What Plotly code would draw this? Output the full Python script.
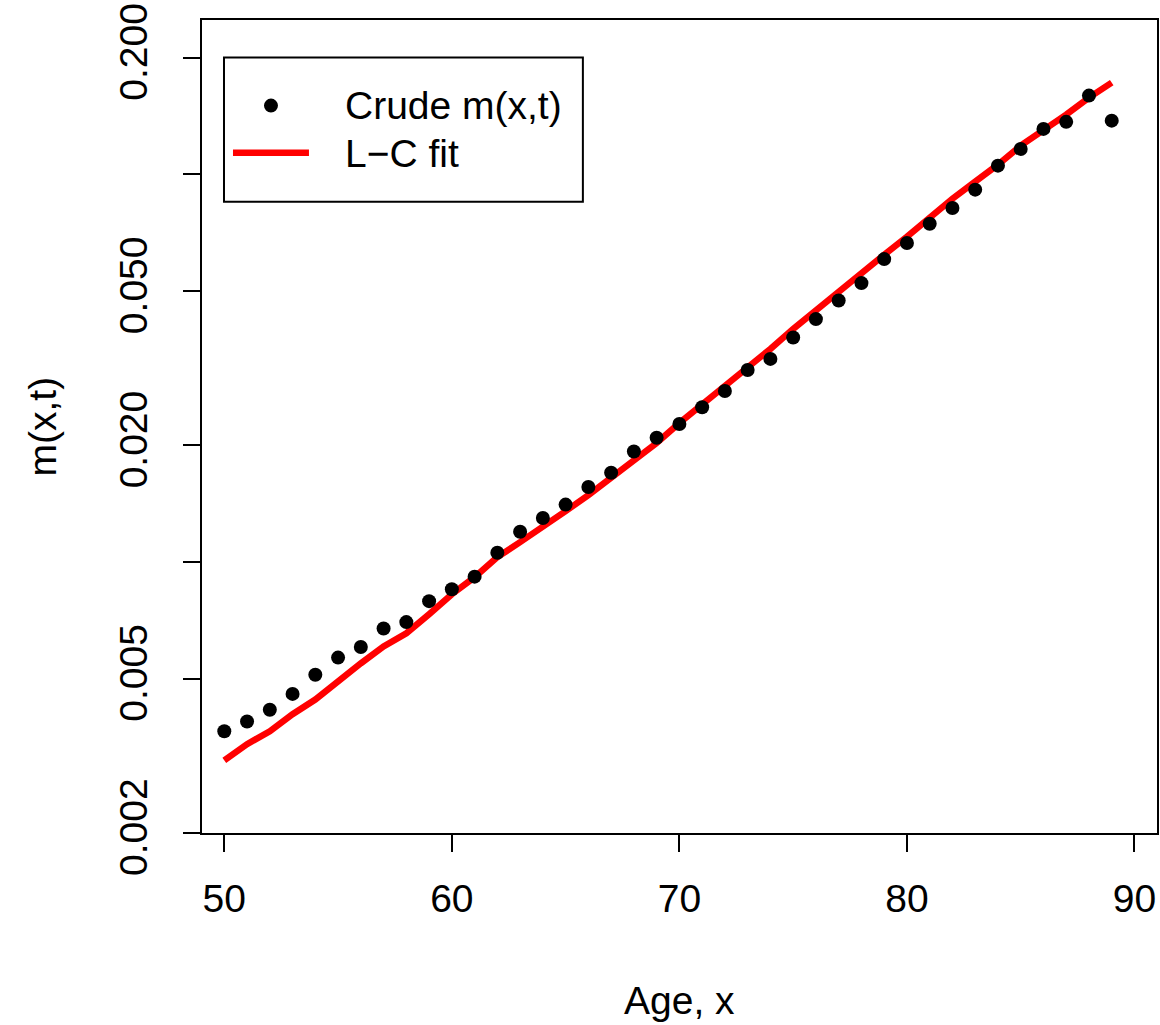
import plotly.graph_objects as go

# Ages and death rates (crude observed vs Lee-Carter fitted), one year of data
ages = list(range(50, 90))

crude_mx = [
    0.00366, 0.00388, 0.00416, 0.00457, 0.00512, 0.00567, 0.00604, 0.00674,
    0.00700, 0.00793, 0.00851, 0.00917, 0.01057, 0.01198, 0.01299, 0.01407,
    0.01562, 0.01700, 0.01929, 0.02094, 0.02272, 0.02508, 0.02764, 0.03131,
    0.03344, 0.03796, 0.04235, 0.04730, 0.05245, 0.06050, 0.06655, 0.07464,
    0.08197, 0.09138, 0.1054, 0.1164, 0.1311, 0.1367, 0.1598, 0.1377,
]

lc_fit = [
    0.00308, 0.00339, 0.00366, 0.00405, 0.00442, 0.00495, 0.00548, 0.00606,
    0.00655, 0.00734, 0.00826, 0.00914, 0.01030, 0.01126, 0.01231, 0.01354,
    0.01489, 0.01647, 0.01834, 0.02029, 0.02285, 0.02543, 0.02830, 0.03170,
    0.03548, 0.03997, 0.04475, 0.04981, 0.05544, 0.06207, 0.06910, 0.07783,
    0.08660, 0.09583, 0.1060, 0.1187, 0.1298, 0.1427, 0.1579, 0.1726,
]

x_ticks = [50, 60, 70, 80, 90]
y_ticks = [0.002, 0.005, 0.01, 0.02, 0.05, 0.1, 0.2]
y_tick_text = ["0.002", "0.005", "", "0.020", "0.050", "", "0.200"]

legend_labels = ["Crude m(x,t)", "L\u2212C fit"]

FONT = "Liberation Sans, Arial, Helvetica, sans-serif"
FS = 39

fig = go.Figure()

fig.add_trace(go.Scatter(
    x=ages, y=lc_fit, mode="lines",
    line=dict(color="#ff0000", width=6.5),
    showlegend=False,
))
fig.add_trace(go.Scatter(
    x=ages, y=crude_mx, mode="markers",
    marker=dict(color="black", size=14, line=dict(width=0)),
    showlegend=False,
))

axis_common = dict(
    showline=True, linecolor="black", linewidth=2, mirror=True,
    showgrid=False, zeroline=False,
    ticks="outside", ticklen=17, tickwidth=2, tickcolor="black",
    tickfont=dict(family=FONT, size=FS, color="black"),
)

fig.update_xaxes(
    range=[49.02, 90.99], tickvals=x_ticks,
    ticklabelstandoff=13,
    **axis_common,
)
fig.update_yaxes(
    type="log", range=[-2.69897, -0.6014],
    tickvals=y_ticks, ticktext=y_tick_text, tickangle=-90,
    ticklabelstandoff=20,
    **axis_common,
)

# Hand-built legend box in the upper-left corner of the panel
W, H = 955.3, 812.0
def px(xp):
    return (xp - 202) / W
def py(yp):
    return (832.5 - yp) / H

shapes = [
    dict(type="rect", xref="paper", yref="paper",
         x0=px(224), x1=px(583), y0=py(202), y1=py(58),
         line=dict(color="black", width=2), fillcolor="white", layer="above"),
    dict(type="circle", xref="paper", yref="paper",
         xsizemode="pixel", ysizemode="pixel",
         xanchor=px(271), yanchor=py(106), x0=-7, x1=7, y0=-7, y1=7,
         fillcolor="black", line=dict(width=0), layer="above"),
    dict(type="line", xref="paper", yref="paper",
         x0=px(233), x1=px(309), y0=py(153), y1=py(153),
         line=dict(color="#ff0000", width=6.5), layer="above"),
]

annotations = [
    dict(text=legend_labels[0], xref="paper", yref="paper",
         x=px(343), y=py(106), xanchor="left", yanchor="middle",
         showarrow=False, font=dict(family=FONT, size=FS, color="black")),
    dict(text=legend_labels[1], xref="paper", yref="paper",
         x=px(343), y=py(154), xanchor="left", yanchor="middle",
         showarrow=False, font=dict(family=FONT, size=FS, color="black")),
    dict(text="Age, x", xref="paper", yref="paper",
         x=0.5, y=0, yshift=-167.5, xanchor="center", yanchor="middle",
         showarrow=False, font=dict(family=FONT, size=FS, color="black")),
    dict(text="m(x,t)", xref="paper", yref="paper",
         x=0, xshift=-160, y=0.5, xanchor="center", yanchor="middle",
         textangle=-90,
         showarrow=False, font=dict(family=FONT, size=FS, color="black")),
]

fig.update_layout(
    width=1160, height=1025,
    margin=dict(l=202, r=3, t=20, b=192, autoexpand=False),
    paper_bgcolor="white", plot_bgcolor="white",
    shapes=shapes, annotations=annotations,
    showlegend=False,
)

fig.write_html("out.html")
